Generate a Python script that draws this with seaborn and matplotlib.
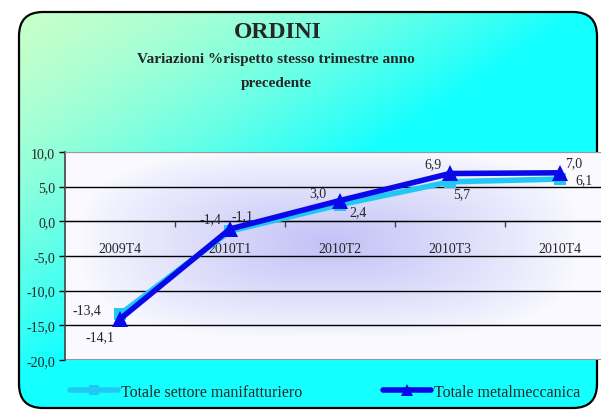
import numpy as np
import pandas as pd
import matplotlib
matplotlib.use("Agg")
import matplotlib.pyplot as plt
from matplotlib.patches import FancyBboxPatch
from matplotlib.lines import Line2D
import seaborn as sns

# data
quarters = ["2009T4", "2010T1", "2010T2", "2010T3", "2010T4"]
manifatturiero = [-13.4, -1.4, 2.4, 5.7, 6.1]
metalmeccanica = [-14.1, -1.1, 3.0, 6.9, 7.0]
y_ticks = [-20, -15, -10, -5, 0, 5, 10]

# label offsets (pixels) for the data labels
off_man = [(-33, 5), (-20, 12), (18, -7), (12, -12), (24, -1)]
off_met = [(-20, -18), (12, 13), (-22, 8), (-17, 10), (14, 10)]

sns.set_style("white")
plt.rcParams['font.family'] = ['Liberation Serif', 'DejaVu Serif']

W, H = 601, 414
fig = plt.figure(figsize=(W / 100, H / 100), dpi=100)
fig.patch.set_facecolor("white")

# gradient background inside rounded box (pale green -> cyan)
bg = fig.add_axes([0, 0, 1, 1], zorder=0)
bg.set_xlim(0, W)
bg.set_ylim(H, 0)
bg.axis("off")
xx, yy = np.meshgrid(np.linspace(0, 1, 200), np.linspace(0, 1, 200))
t = np.clip(xx * 1.0 + yy * 1.05, 0, 1) ** 1.6
c0 = np.array([0.79, 1.0, 0.79])
c1 = np.array([0.08, 1.0, 1.0])
img = c0[None, None, :] * (1 - t[..., None]) + c1[None, None, :] * t[..., None]
im = bg.imshow(img, extent=[0, W, H, 0], aspect="auto", zorder=0)
box = FancyBboxPatch((19, 13), 578, 396, boxstyle="round,pad=0,rounding_size=24",
                     facecolor="none", edgecolor="black", linewidth=1.6, zorder=2)
bg.add_patch(box)
im.set_clip_path(box)

# plot area
ax = fig.add_axes([65 / W, 1 - 361 / H, 550 / W, 208 / H], zorder=1)
ax.set_xlim(-0.5, 4.5)
ax.set_ylim(-20, 10)

# lavender soft-rectangle glow in plot area
gx, gy = np.meshgrid(np.linspace(0, 1, 300), np.linspace(0, 1, 200))
dx = np.abs(gx - 0.48) / 0.46
dy = np.abs(gy - 0.44) / 0.46
d = (dx ** 3 + dy ** 3) ** (1 / 3)
g = np.clip(1 - d, 0, 1) ** 0.9
white = np.array([0.98, 0.98, 1.0])
lav = np.array([0.76, 0.76, 0.97])
pimg = white[None, None, :] * (1 - g[..., None]) + lav[None, None, :] * g[..., None]
ax.imshow(pimg, extent=[0, 1, 0, 1], transform=ax.transAxes, aspect="auto", zorder=0)

for v in [5, 0, -5, -10, -15]:
    ax.axhline(v, color="black", lw=1.0, zorder=1)

df = pd.DataFrame({"x": range(len(quarters)), "man": manifatturiero, "met": metalmeccanica})
sns.lineplot(data=df, x="x", y="man", ax=ax, color="#22c8f5", lw=4, marker="s",
             markersize=9, markeredgewidth=0, zorder=3)
sns.lineplot(data=df, x="x", y="met", ax=ax, color="#0808e8", lw=4, marker="^",
             markersize=11, markeredgewidth=0, zorder=4)

for i in range(len(quarters)):
    ax.annotate(f"{manifatturiero[i]:.1f}".replace(".", ","), (i, manifatturiero[i]),
                xytext=off_man[i], textcoords="offset pixels", ha="center", va="center",
                fontsize=10, zorder=5)
    ax.annotate(f"{metalmeccanica[i]:.1f}".replace(".", ","), (i, metalmeccanica[i]),
                xytext=off_met[i], textcoords="offset pixels", ha="center", va="center",
                fontsize=10, zorder=5)

ax.set_xlabel("")
ax.set_ylabel("")
ax.set_yticks(y_ticks)
ax.set_yticklabels([f"{v:.1f}".replace(".", ",") for v in y_ticks], fontsize=10)
ax.tick_params(axis="y", direction="out", length=4, width=1, color="black", pad=3, left=True)

# x axis at zero: ticks at boundaries, labels at centers
ax.spines["bottom"].set_position(("data", 0))
ax.set_xticks([0.5, 1.5, 2.5, 3.5])
ax.set_xticklabels([])
ax.set_xticks(range(len(quarters)), minor=True)
ax.set_xticklabels(quarters, minor=True, fontsize=10)
ax.tick_params(axis="x", which="major", direction="out", length=4, width=1, color="#444444", bottom=True)
ax.tick_params(axis="x", which="minor", length=0, pad=15)
ax.spines["bottom"].set_color("black")
ax.spines["left"].set_color("#444444")
ax.spines["left"].set_linewidth(1.2)
ax.spines["top"].set_color("#999999")
ax.spines["right"].set_visible(False)
ax.axhline(-20, color="#999999", lw=1.5, zorder=2)
ax.axhline(10, color="#999999", lw=1.5, zorder=2)

# titles
fig.text(278 / W, 1 - 33 / H, "ORDINI", ha="center", va="center", fontsize=17, fontweight="bold")
fig.text(276 / W, 1 - 60 / H, "Variazioni %rispetto stesso trimestre anno",
         ha="center", va="center", fontsize=11, fontweight="bold")
fig.text(276 / W, 1 - 83 / H, "precedente", ha="center", va="center", fontsize=11, fontweight="bold")

# legend
handles = [
    Line2D([], [], color="#22c8f5", lw=4, marker="s", markersize=7, markeredgewidth=0),
    Line2D([], [], color="#0808e8", lw=4, marker="^", markersize=9, markeredgewidth=0),
]
fig.legend(handles, ["Totale settore manifatturiero", "Totale metalmeccanica"],
           loc="center left", bbox_to_anchor=(56 / W, 1 - 393 / H), ncol=2, frameon=False,
           fontsize=11.5, handlelength=3.0, handletextpad=0.2, columnspacing=5.0)

fig.savefig("out.png", dpi=100)
